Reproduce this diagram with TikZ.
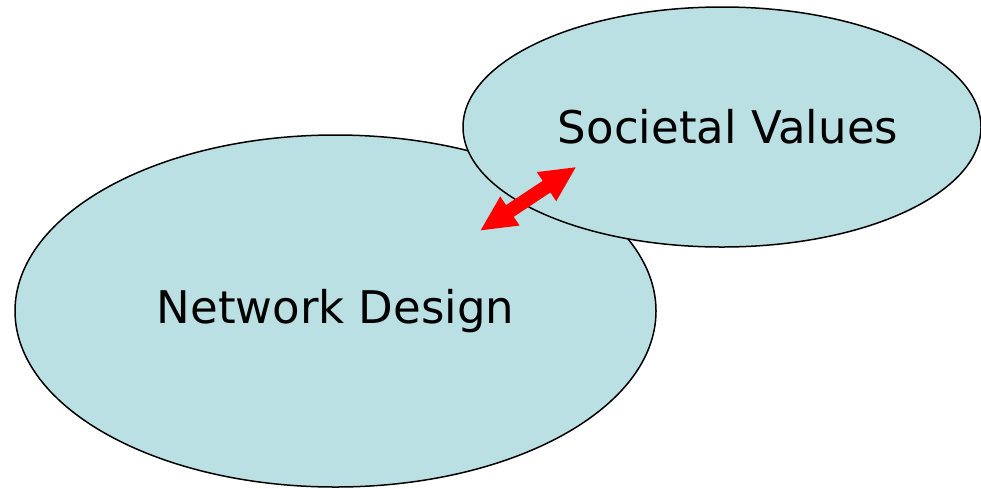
\documentclass[tikz,border=0pt]{standalone}
\usepackage{fontspec}
\setmainfont{DejaVu Sans}
\usetikzlibrary{shapes.geometric,calc}
\definecolor{bubble}{RGB}{187,224,227}
\definecolor{arrowred}{RGB}{255,0,0}
\tikzset{
  bubblenode/.style={ellipse, draw=black, line width=1.5pt, fill=bubble,
    inner sep=0pt, outer sep=0pt, font=\fontsize{45}{54}\selectfont},
  linkarrow/.style={fill=arrowred, draw=none}
}
\begin{document}
\begin{tikzpicture}[x=1pt,y=-1pt]
\useasboundingbox (0,0) rectangle (981,488);
\node[bubblenode, minimum width=641pt, minimum height=352pt] (nd) at (335.5,311) {Network Design};
\node[bubblenode, minimum width=518pt, minimum height=240pt] (sv) at (722,127) {\hspace{12pt}Societal Values};
\coordinate (lo) at (480.7,230.3);
\coordinate (hi) at (575.7,167.3);
\begin{scope}[shift={(lo)}, x=1pt, y=1pt, rotate=33.55]
  \fill[linkarrow] (0,0) -- (35,17.5) -- (35,7) -- (79,7) -- (79,17.5) -- (114,0)
    -- (79,-17.5) -- (79,-7) -- (35,-7) -- (35,-17.5) -- cycle;
\end{scope}
\end{tikzpicture}
\end{document}
